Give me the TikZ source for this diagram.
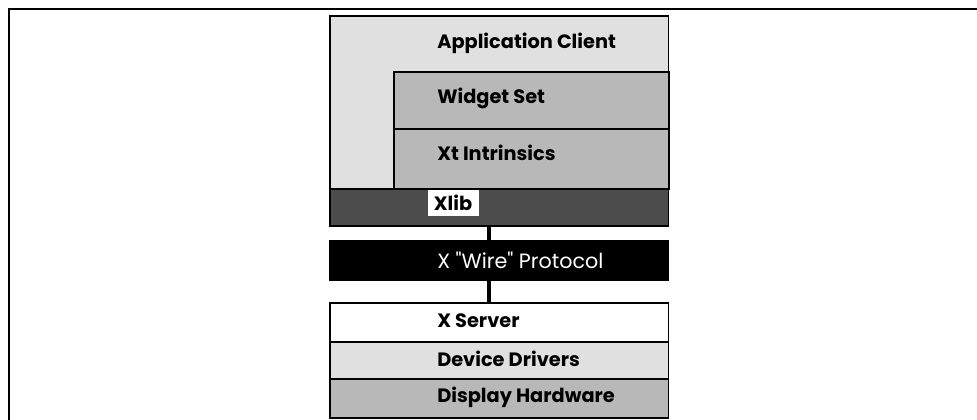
\documentclass[tikz,border=0pt]{standalone}
\usepackage{fontspec}
\setsansfont{Poppins}[Ligatures=TeXOff]
\usetikzlibrary{
  positioning,
  calc}
\definecolor{clientcolor}{gray}{0.88}
\definecolor{toolkitcolor}{gray}{0.72}
\definecolor{xlibcolor}{gray}{0.30}
\definecolor{wirecolor}{gray}{0.0}
\definecolor{drivercolor}{gray}{0.88}
\definecolor{hardwarecolor}{gray}{0.72}
\tikzset{
  %% layer : one box of the stack
  layer/.style={
    rectangle,
    draw=black,
    line width=1.2pt,
    inner sep=0pt
  },
  %% lbl : text of a layer
  lbl/.style={
    anchor=west,
    inner sep=0pt,
    font=\sffamily\bfseries\fontsize{14.5}{16}\selectfont
  },
  %% xlibtag : white tag in the Xlib band
  xlibtag/.style={
    rectangle,
    fill=white,
    draw=white,
    minimum width=37.5pt,
    minimum height=18.75pt,
    inner sep=0pt,
    font=\sffamily\bfseries\fontsize{14.5}{16}\selectfont
  },
  %% link : connection between the layers
  link/.style={line width=3pt},
  %% frame : lines round the figure
  frame/.style={line width=1.6pt}
}
\begin{document}
\begin{tikzpicture}
  [x=0.75pt,
  y=-0.75pt]

  \useasboundingbox (0,0) rectangle (977,419);

  %% Frame round the figure
  \draw [frame] (9,420) -- (9,9) -- (977,9);

  %% Client side
  \node (client) [layer, fill=clientcolor, anchor=north west,
    minimum width=254pt, minimum height=130.5pt] at (329,15) {};
  \node (widget) [layer, fill=toolkitcolor, anchor=north west,
    minimum width=206.25pt, minimum height=42.75pt] at (393,71) {};
  \node (xt) [layer, fill=toolkitcolor, anchor=north west,
    minimum width=206.25pt, minimum height=45pt] at (393,128) {};
  \node (band) [layer, fill=xlibcolor, anchor=north west,
    minimum width=254pt, minimum height=27.75pt] at (329,188) {};

  \node [lbl] at (437,43) {Application Client};
  \node [lbl] at (437,98) {Widget Set};
  \node [lbl] at (437,153) {Xt Intrinsics};
  \node (xlib) [xlibtag] at (453,203) {Xlib};

  %% Protocol
  \node (proto) [layer, fill=wirecolor, anchor=north west,
    minimum width=254pt, minimum height=29.25pt] at (329,240) {};
  \node [lbl, text=white, font=\sffamily\fontsize{15.5}{17}\selectfont]
    at (437,260) {X "Wire" Protocol};

  %% Server side
  \node (server) [layer, fill=white, anchor=north west,
    minimum width=254pt, minimum height=29.25pt] at (329,302) {};
  \node (drivers) [layer, fill=drivercolor, anchor=north west,
    minimum width=254pt, minimum height=27.75pt] at (329,341) {};
  \node (hardware) [layer, fill=hardwarecolor, anchor=north west,
    minimum width=254pt, minimum height=29.25pt] at (329,378) {};

  \node [lbl] at (437,321) {X Server};
  \node [lbl] at (437,359) {Device Drivers};
  \node [lbl] at (437,397) {Display Hardware};

  %% Connections
  \coordinate (tap) at (489,0);
  \draw [link] (band.south -| tap) -- (proto.north -| tap);
  \draw [link] (proto.south -| tap) -- (server.north -| tap);

\end{tikzpicture}
\end{document}
